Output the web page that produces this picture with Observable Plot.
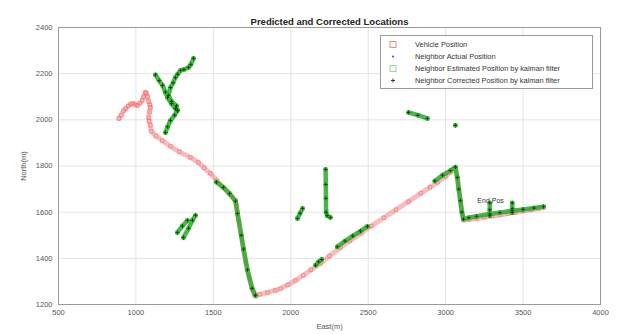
<!DOCTYPE html>
<html>
<head>
<meta charset="utf-8">
<script src="https://cdn.jsdelivr.net/npm/d3@7"></script>
<script src="https://cdn.jsdelivr.net/npm/@observablehq/plot@0.6"></script>
<style>
  html, body { margin: 0; padding: 0; background: #fff; }
  #wrap { position: relative; width: 617px; height: 334px; font-family: "Liberation Sans", Arial, sans-serif; }
  #legend { position: absolute; left: 380px; top: 35px; width: 213px; height: 54px; border: 1px solid #9a9a9a; background: #fff; box-sizing: border-box; }
  .row { position: absolute; left: 0; height: 11px; font-size: 7.4px; color: #333; line-height: 11px; white-space: nowrap; }
  .row svg { position: absolute; left: 6px; top: 1px; }
  .row span { position: absolute; left: 34px; }
</style>
</head>
<body>
<div id="wrap"></div>
<script>
// ---- data ----
const titleText = "Predicted and Corrected Locations";
const xTicks = [500, 1000, 1500, 2000, 2500, 3000, 3500, 4000];
const yTicks = [1200, 1400, 1600, 1800, 2000, 2200, 2400];

const vehicleEast  = [890, 905, 920, 935, 950, 965, 980, 995, 1010, 1025, 1040, 1050, 1060, 1068, 1075, 1082, 1090, 1094, 1088, 1082, 1085, 1094, 1100, 1130, 1170, 1223, 1280, 1352, 1404, 1440, 1481, 1520, 1565, 1605, 1643, 1650, 1656, 1665, 1680, 1695, 1710, 1730, 1750, 1765, 1772, 1800, 1850, 1900, 1934, 1980, 2030, 2080, 2130, 2192, 2250, 2321, 2380, 2450, 2520, 2600, 2680, 2760, 2840, 2900, 2947, 3000, 3030, 3063, 3075, 3085, 3095, 3105, 3115, 3150, 3200, 3250, 3300, 3350, 3400, 3450, 3500, 3550, 3600, 3632];
const vehicleNorth = [2006, 2020, 2040, 2049, 2060, 2068, 2071, 2066, 2062, 2072, 2084, 2100, 2119, 2116, 2100, 2080, 2065, 2054, 2035, 2010, 1995, 1976, 1950, 1930, 1910, 1885, 1862, 1837, 1815, 1792, 1768, 1738, 1707, 1678, 1650, 1630, 1594, 1560, 1500, 1440, 1380, 1320, 1270, 1242, 1236, 1244, 1252, 1261, 1269, 1285, 1304, 1326, 1350, 1378, 1410, 1447, 1475, 1508, 1540, 1576, 1611, 1646, 1682, 1708, 1729, 1755, 1772, 1792, 1750, 1700, 1650, 1600, 1566, 1568, 1573, 1578, 1583, 1588, 1594, 1599, 1605, 1610, 1616, 1620];

// neighbour tracks: track id, east, north
const neighborTrack = [1,1,1,1,1,1,1,1, 2,2,2,2,2,2,2,2,2,2,2,2,2,2,2,2,2, 3,3,3, 4,4,4,4, 5,5,5,5,5,5,5,5,5,5, 6,6,6, 7,7,7,7,7,7, 8,8,8, 9,9,9,9,9, 10,10,10, 11, 12,12,12,12,12,12,12,12,12,12,12,12,12,12,12,12,12, 13,13,13, 14,14,14];
const neighborEast  = [1126,1150,1172,1190,1204,1230,1255,1268, 1372,1355,1340,1310,1288,1270,1255,1240,1223,1210,1230,1262,1268,1250,1223,1205,1191, 1268,1300,1333, 1307,1340,1365,1385, 1520,1565,1605,1643,1656,1680,1695,1720,1750,1772, 2043,2060,2076, 2225,2226,2227,2228,2235,2256, 2160,2180,2200, 2300,2350,2400,2450,2495, 2760,2820,2882, 3063, 2930,2980,3030,3063,3075,3085,3095,3105,3115,3150,3200,3285,3350,3430,3500,3570,3632, 3285,3285,3285, 3430,3430,3430];
const neighborNorth = [2195,2170,2149,2120,2097,2070,2049,2040, 2266,2240,2227,2218,2214,2198,2183,2160,2140,2106,2080,2060,2041,2020,1997,1970,1945, 1512,1540,1564, 1490,1530,1565,1586, 1730,1707,1680,1648,1594,1500,1440,1350,1270,1240, 1573,1595,1616, 1785,1720,1660,1600,1585,1577, 1370,1385,1395, 1450,1475,1497,1518,1538, 2032,2020,2006, 1976, 1735,1760,1780,1795,1750,1700,1650,1600,1570,1576,1582,1592,1598,1606,1612,1618,1624, 1640,1610,1585, 1640,1615,1598];

const endLabel = ["End Pos"];
const endEast = [3290];
const endNorth = [1650];

// ---- build tables ----
const vehicle = vehicleEast.map((e, i) => ({east: e, north: vehicleNorth[i]}));
const neighbors = neighborEast.map((e, i) => ({track: neighborTrack[i], east: e, north: neighborNorth[i]}));

const chart = Plot.plot({
  width: 617,
  height: 334,
  marginLeft: 58,
  marginRight: 17,
  marginTop: 27,
  marginBottom: 30,
  style: {fontFamily: "Liberation Sans, Arial, sans-serif", background: "#fff"},
  x: {domain: [500, 4000]},
  y: {domain: [1200, 2400]},
  marks: [
    Plot.gridX(xTicks, {stroke: "#e3e3e3", strokeOpacity: 1}),
    Plot.gridY(yTicks, {stroke: "#e3e3e3", strokeOpacity: 1}),
    Plot.axisX(xTicks, {tickSize: 0, tickPadding: 5, fontSize: 7.5, fill: "#555", tickFormat: d => String(d), label: "East(m)", labelAnchor: "center", labelArrow: "none", labelOffset: 24}),
    Plot.axisY(yTicks, {tickSize: 0, tickPadding: 6, fontSize: 7.5, fill: "#555", tickFormat: d => String(d), label: "North(m)", labelAnchor: "center", labelArrow: "none", labelOffset: 38}),
    Plot.frame({stroke: "#9a9a9a"}),
    // vehicle position (open red squares)
    Plot.line(vehicle, {x: "east", y: "north", stroke: "#f47a7a", strokeWidth: 5, strokeOpacity: 0.5, strokeDasharray: "2,1", curve: "linear"}),
    Plot.dot(vehicle, {x: "east", y: "north", symbol: "square", r: 1.9, stroke: "#ee4040", strokeWidth: 0.7, fill: "none", strokeOpacity: 0.55}),
    // neighbour actual (blue)
    Plot.dot(neighbors, {x: "east", y: "north", r: 0.8, fill: "#3050d0"}),
    // neighbour estimated (green squares)
    Plot.line(neighbors, {x: "east", y: "north", z: "track", stroke: "#2aa82a", strokeWidth: 4.5, strokeOpacity: 0.85}),
    Plot.dot(neighbors, {x: "east", y: "north", symbol: "square", r: 2, stroke: "#3cc83c", strokeWidth: 0.7, fill: "none"}),
    // neighbour corrected (dark plus)
    Plot.dot(neighbors, {x: "east", y: "north", symbol: "plus", r: 1.4, stroke: "#0f3f0f", strokeWidth: 0.9}),
    Plot.text(endLabel, {x: endEast, y: endNorth, text: d => d, fontSize: 7, fill: "#333"}),
    Plot.text([titleText], {frameAnchor: "top", dy: -9, fontSize: 9.5, fontWeight: "bold", fill: "#222"})
  ]
});

const wrap = document.getElementById("wrap");
wrap.appendChild(chart);

const legend = document.createElement("div");
legend.id = "legend";
const items = [
  {label: "Vehicle Position", svg: '<svg width="12" height="9"><rect x="3" y="1.5" width="6" height="6" fill="none" stroke="#f08a8a" stroke-width="1"/></svg>'},
  {label: "Neighbor Actual Position", svg: '<svg width="12" height="9"><circle cx="6" cy="4.5" r="1" fill="#3050d0"/></svg>'},
  {label: "Neighbor Estimated Position by kalman filter", svg: '<svg width="12" height="9"><rect x="3" y="1.5" width="6" height="6" fill="none" stroke="#8fe08f" stroke-width="1"/></svg>'},
  {label: "Neighbor Corrected Position by kalman filter", svg: '<svg width="12" height="9"><path d="M6,2.5V6.5M4,4.5H8" stroke="#333" stroke-width="1"/></svg>'}
];
items.forEach((it, i) => {
  const row = document.createElement("div");
  row.className = "row";
  row.style.top = (3 + i * 12) + "px";
  row.innerHTML = it.svg + "<span>" + it.label + "</span>";
  legend.appendChild(row);
});
wrap.appendChild(legend);
</script>
</body>
</html>
